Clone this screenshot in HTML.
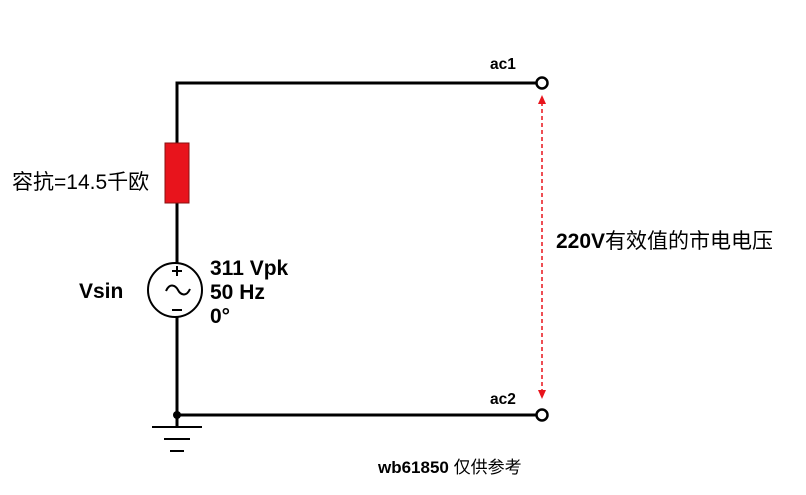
<!DOCTYPE html>
<html><head><meta charset="utf-8"><style>
html,body{margin:0;padding:0;background:#fff;}
svg{display:block;}
text{font-family:"Liberation Sans","Noto Sans CJK SC",sans-serif;}
</style></head><body>
<svg width="806" height="495" viewBox="0 0 806 495" xmlns="http://www.w3.org/2000/svg">
<g stroke="#000" stroke-width="3" fill="none">
<polyline points="537,83 177,83 177,143"/>
<line x1="177" y1="203" x2="177" y2="264"/>
<line x1="177" y1="316" x2="177" y2="415"/>
<line x1="177" y1="415" x2="537" y2="415"/>
<line x1="177" y1="415" x2="177" y2="427"/>
</g>
<rect x="165" y="143" width="24" height="60" fill="#e8141c" stroke="#8a1010" stroke-width="1"/>
<circle cx="542" cy="83" r="5.5" fill="#fff" stroke="#000" stroke-width="2.5"/>
<circle cx="542" cy="415" r="5.5" fill="#fff" stroke="#000" stroke-width="2.5"/>
<circle cx="177" cy="415" r="4" fill="#000"/>
<g stroke="#000" stroke-width="2">
<line x1="152" y1="427" x2="202" y2="427"/>
<line x1="164" y1="439" x2="190" y2="439"/>
<line x1="170" y1="451" x2="184" y2="451"/>
</g>
<circle cx="175" cy="290" r="27" fill="none" stroke="#000" stroke-width="2"/>
<g stroke="#000" stroke-width="2" fill="none">
<line x1="172" y1="271" x2="182" y2="271"/><line x1="177" y1="266" x2="177" y2="276"/>
<line x1="172" y1="310" x2="182" y2="310"/>
<path d="M166 291 C170 282,176 286,178 290 C180 294,186 298,190 289"/>
</g>
<line x1="542" y1="102" x2="542" y2="392" stroke="#e8141c" stroke-width="1.5" stroke-dasharray="4,3"/>
<polygon points="542,95 538,104 546,104" fill="#e8141c"/>
<polygon points="542,399 538,390 546,390" fill="#e8141c"/>
<text x="490" y="69" font-size="15.5" font-weight="bold">ac1</text>
<text x="490" y="404" font-size="15.5" font-weight="bold">ac2</text>
<text x="12" y="189" font-size="21">容抗=14.5千欧</text>
<text x="79" y="298" font-size="21" font-weight="bold">Vsin</text>
<text x="210" y="275" font-size="21" font-weight="bold">311 Vpk</text>
<text x="210" y="299" font-size="21" font-weight="bold">50 Hz</text>
<text x="210" y="323" font-size="21" font-weight="bold">0°</text>
<text x="556" y="248" font-size="21"><tspan font-weight="bold">220V</tspan>有效值的市电电压</text>
<text x="378" y="473" font-size="17"><tspan font-weight="bold">wb61850</tspan> 仅供参考</text>
</svg>
</body></html>
